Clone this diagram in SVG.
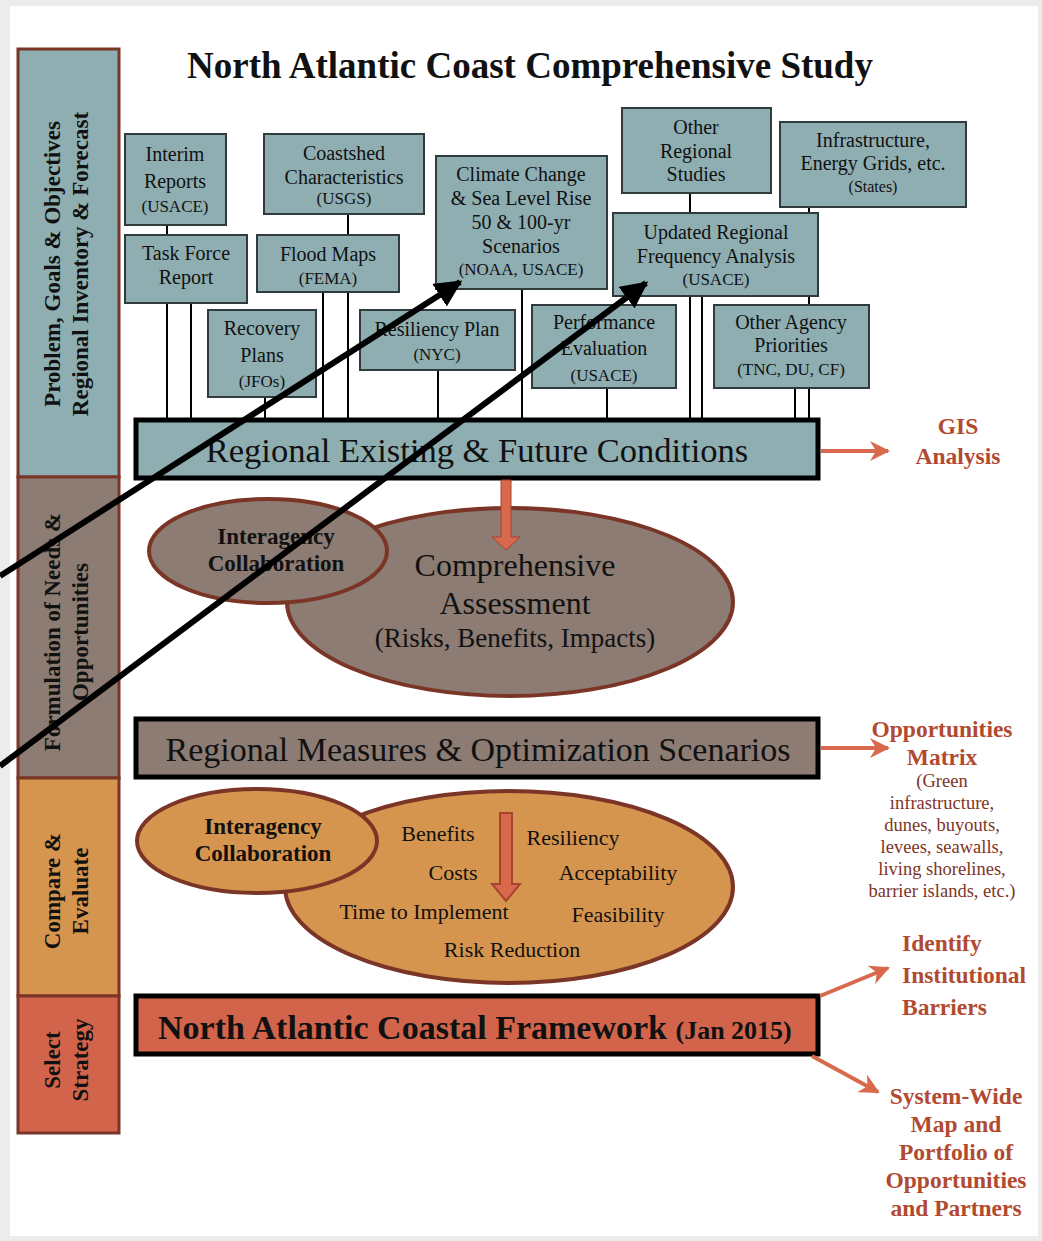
<svg xmlns="http://www.w3.org/2000/svg" width="1042" height="1241" viewBox="0 0 1042 1241">
<defs>
<style>
text{font-family:"Liberation Serif","Times New Roman",serif;fill:#111}
.t{text-anchor:middle}
.b{font-size:20px}
.s{font-size:17px}
.box{fill:#8eaeb2;stroke:#2f3b3c;stroke-width:2}
.bar{stroke:#000;stroke-width:5}
.side{font-size:23px;font-weight:bold;text-anchor:middle}
.rl{fill:#b14a30;font-weight:bold;font-size:23.5px;text-anchor:middle}
.rs{fill:#7e3426;font-size:18.5px;text-anchor:middle}
.el{stroke:#7b3527;stroke-width:4}
.ib{font-size:23px;font-weight:bold;text-anchor:middle}
.conn line{stroke:#000;stroke-width:2}
.red{stroke:#d8694d;stroke-width:4;fill:none}
.blk{stroke:#000;stroke-width:6}
</style>
<marker id="ah" viewBox="0 0 10 10" refX="9" refY="5" markerWidth="5" markerHeight="5" orient="auto" markerUnits="strokeWidth">
<path d="M0,0 L10,5 L0,10 L3,5 z" fill="#d8694d"/>
</marker>
<marker id="bh" viewBox="0 0 10 10" refX="9" refY="5" markerWidth="4.5" markerHeight="4.5" orient="auto" markerUnits="strokeWidth">
<path d="M0,0 L10,5 L0,10 z" fill="#000"/>
</marker>
</defs>
<rect width="1042" height="1241" fill="#ebedec"/>
<rect x="10" y="6" width="1028" height="1230" fill="#fff"/>

<g id="sidebar">
<rect x="18" y="49" width="101" height="428" fill="#8eaeb2" stroke="#7b3527" stroke-width="3"/>
<rect x="18" y="477" width="101" height="301" fill="#8c7c73" stroke="#7b3527" stroke-width="3"/>
<rect x="18" y="778" width="101" height="218" fill="#d6954e" stroke="#7b3527" stroke-width="3"/>
<rect x="18" y="996" width="101" height="137" fill="#d2644b" stroke="#7b3527" stroke-width="3"/>
<g transform="translate(0,264) rotate(-90)"><text class="side" x="0" y="60">Problem, Goals &amp; Objectives</text><text class="side" x="0" y="88">Regional Inventory &amp; Forecast</text></g>
<g transform="translate(0,632) rotate(-90)"><text class="side" x="0" y="60">Formulation of Needs &amp;</text><text class="side" x="0" y="88">Opportunities</text></g>
<g transform="translate(0,891) rotate(-90)"><text class="side" x="0" y="60">Compare &amp;</text><text class="side" x="0" y="88">Evaluate</text></g>
<g transform="translate(0,1060) rotate(-90)"><text class="side" x="0" y="60">Select</text><text class="side" x="0" y="88">Strategy</text></g>
</g>

<text id="title" class="t" x="530" y="78" font-size="37" font-weight="bold">North Atlantic Coast Comprehensive Study</text>

<g id="connectors" class="conn">
<line x1="167" y1="225" x2="167" y2="235"/>
<line x1="167" y1="303" x2="167" y2="419"/>
<line x1="191" y1="303" x2="191" y2="419"/>
<line x1="348" y1="214" x2="348" y2="235"/>
<line x1="323" y1="292" x2="323" y2="419"/>
<line x1="348" y1="292" x2="348" y2="419"/>
<line x1="265" y1="397" x2="265" y2="419"/>
<line x1="438" y1="370" x2="438" y2="419"/>
<line x1="522" y1="289" x2="522" y2="419"/>
<line x1="607" y1="388" x2="607" y2="419"/>
<line x1="690" y1="193" x2="690" y2="213"/>
<line x1="690" y1="296" x2="690" y2="419"/>
<line x1="702" y1="296" x2="702" y2="419"/>
<line x1="809" y1="207" x2="809" y2="213"/>
<line x1="809" y1="296" x2="809" y2="305"/>
<line x1="795" y1="388" x2="795" y2="419"/>
<line x1="809" y1="388" x2="809" y2="419"/>
</g>

<g id="n-interim"><rect class="box" x="125" y="134" width="101" height="91"/><text class="t b" x="175" y="161">Interim</text><text class="t b" x="175" y="188">Reports</text><text class="t s" x="175" y="212">(USACE)</text></g>
<g id="n-taskforce"><rect class="box" x="125" y="235" width="122" height="68"/><text class="t b" x="186" y="260">Task Force</text><text class="t b" x="186" y="284">Report</text></g>
<g id="n-coastshed"><rect class="box" x="264" y="134" width="160" height="80"/><text class="t b" x="344" y="160">Coastshed</text><text class="t b" x="344" y="184">Characteristics</text><text class="t s" x="344" y="204">(USGS)</text></g>
<g id="n-flood"><rect class="box" x="257" y="235" width="142" height="57"/><text class="t b" x="328" y="261">Flood Maps</text><text class="t s" x="328" y="284">(FEMA)</text></g>
<g id="n-recovery"><rect class="box" x="208" y="310" width="108" height="87"/><text class="t b" x="262" y="335">Recovery</text><text class="t b" x="262" y="362">Plans</text><text class="t s" x="262" y="387">(JFOs)</text></g>
<g id="n-climate"><rect class="box" x="436" y="156" width="171" height="133"/><text class="t b" x="521" y="181">Climate Change</text><text class="t b" x="521" y="205">&amp; Sea Level Rise</text><text class="t b" x="521" y="229">50 &amp; 100-yr</text><text class="t b" x="521" y="253">Scenarios</text><text class="t s" x="521" y="275">(NOAA, USACE)</text></g>
<g id="n-resiliency"><rect class="box" x="360" y="310" width="155" height="60"/><text class="t b" x="437" y="336">Resiliency Plan</text><text class="t s" x="437" y="360">(NYC)</text></g>
<g id="n-otherreg"><rect class="box" x="622" y="108" width="149" height="85"/><text class="t b" x="696" y="134">Other</text><text class="t b" x="696" y="158">Regional</text><text class="t b" x="696" y="181">Studies</text></g>
<g id="n-infra"><rect class="box" x="780" y="122" width="186" height="85"/><text class="t b" x="873" y="147">Infrastructure,</text><text class="t b" x="873" y="170">Energy Grids, etc.</text><text class="t" x="873" y="192" font-size="16">(States)</text></g>
<g id="n-updated"><rect class="box" x="613" y="213" width="205" height="83"/><text class="t b" x="716" y="239">Updated Regional</text><text class="t b" x="716" y="263">Frequency Analysis</text><text class="t s" x="716" y="285">(USACE)</text></g>
<g id="n-performance"><rect class="box" x="532" y="305" width="144" height="83"/><text class="t b" x="604" y="329">Performance</text><text class="t b" x="604" y="355">Evaluation</text><text class="t s" x="604" y="381">(USACE)</text></g>
<g id="n-otheragency"><rect class="box" x="714" y="305" width="155" height="83"/><text class="t b" x="791" y="329">Other Agency</text><text class="t b" x="791" y="352">Priorities</text><text class="t s" x="791" y="375">(TNC, DU, CF)</text></g>

<g id="n-conditions"><rect class="bar" x="136" y="420" width="682" height="58" fill="#8eaeb2"/><text class="t" x="477" y="462" font-size="34.5">Regional Existing &amp; Future Conditions</text></g>

<g id="n-assessment">
<ellipse class="el" cx="510" cy="602" rx="223" ry="94" fill="#8c7c73"/>
<text class="t" x="515" y="576" font-size="32">Comprehensive</text>
<text class="t" x="515" y="614" font-size="32">Assessment</text>
<text class="t" x="515" y="647" font-size="27">(Risks, Benefits, Impacts)</text>
</g>
<g id="n-interagency1">
<ellipse class="el" cx="268" cy="551" rx="119" ry="52" fill="#8c7c73"/>
<text class="ib" x="276" y="544">Interagency</text>
<text class="ib" x="276" y="571">Collaboration</text>
</g>

<g id="n-measures"><rect class="bar" x="136" y="719" width="682" height="58" fill="#8c7c73"/><text class="t" x="478" y="761" font-size="34">Regional Measures &amp; Optimization Scenarios</text></g>

<g id="n-evaluate">
<ellipse class="el" cx="509" cy="887" rx="224" ry="96" fill="#d6954e"/>
<text class="t" x="438" y="841" font-size="22">Benefits</text>
<text class="t" x="573" y="845" font-size="22">Resiliency</text>
<text class="t" x="453" y="880" font-size="22">Costs</text>
<text class="t" x="618" y="880" font-size="22">Acceptability</text>
<text class="t" x="424" y="919" font-size="22">Time to Implement</text>
<text class="t" x="618" y="922" font-size="22">Feasibility</text>
<text class="t" x="512" y="957" font-size="22">Risk Reduction</text>
</g>
<g id="n-interagency2">
<ellipse class="el" cx="257" cy="841" rx="120" ry="52" fill="#d6954e"/>
<text class="ib" x="263" y="834">Interagency</text>
<text class="ib" x="263" y="861">Collaboration</text>
</g>

<g id="n-framework"><rect class="bar" x="136" y="996" width="682" height="58" fill="#d2644b"/><text x="158" y="1039" font-weight="bold" font-size="34">North Atlantic Coastal Framework <tspan font-size="26">(Jan 2015)</tspan></text></g>

<g id="n-gis"><text class="rl" x="958" y="434">GIS</text><text class="rl" x="958" y="464">Analysis</text></g>
<g id="n-opportunities"><text class="rl" x="942" y="737">Opportunities</text><text class="rl" x="942" y="765">Matrix</text>
<text class="rs" x="942" y="787">(Green</text><text class="rs" x="942" y="809">infrastructure,</text><text class="rs" x="942" y="831">dunes, buyouts,</text><text class="rs" x="942" y="853">levees, seawalls,</text><text class="rs" x="942" y="875">living shorelines,</text><text class="rs" x="942" y="897">barrier islands, etc.)</text></g>
<g id="n-barriers"><text class="rl" x="902" y="951" style="text-anchor:start">Identify</text><text class="rl" x="902" y="983" style="text-anchor:start">Institutional</text><text class="rl" x="902" y="1015" style="text-anchor:start">Barriers</text></g>
<g id="n-portfolio"><text class="rl" x="956" y="1104" font-size="24">System-Wide</text><text class="rl" x="956" y="1132">Map and</text><text class="rl" x="956" y="1160">Portfolio of</text><text class="rl" x="956" y="1188">Opportunities</text><text class="rl" x="956" y="1216">and Partners</text></g>

<g id="arrows">
<line class="red" x1="821" y1="451" x2="888" y2="451" marker-end="url(#ah)"/>
<line class="red" x1="821" y1="748" x2="888" y2="748" marker-end="url(#ah)"/>
<line class="red" x1="820" y1="996" x2="888" y2="968" marker-end="url(#ah)"/>
<line class="red" x1="812" y1="1056" x2="878" y2="1092" marker-end="url(#ah)"/>
<path d="M501,480 L511,480 L511,537 L520,537 L506,550 L492,537 L501,537 Z" fill="#d8694d" stroke="#a8432f" stroke-width="1"/>
<path d="M500,813 L512,813 L512,884 L520,884 L506,901 L492,884 L500,884 Z" fill="#d8694d" stroke="#a8432f" stroke-width="2"/>
<line class="blk" x1="0" y1="576" x2="460" y2="282" marker-end="url(#bh)"/>
<line class="blk" x1="0" y1="766" x2="646" y2="283" marker-end="url(#bh)"/>
</g>
</svg>
